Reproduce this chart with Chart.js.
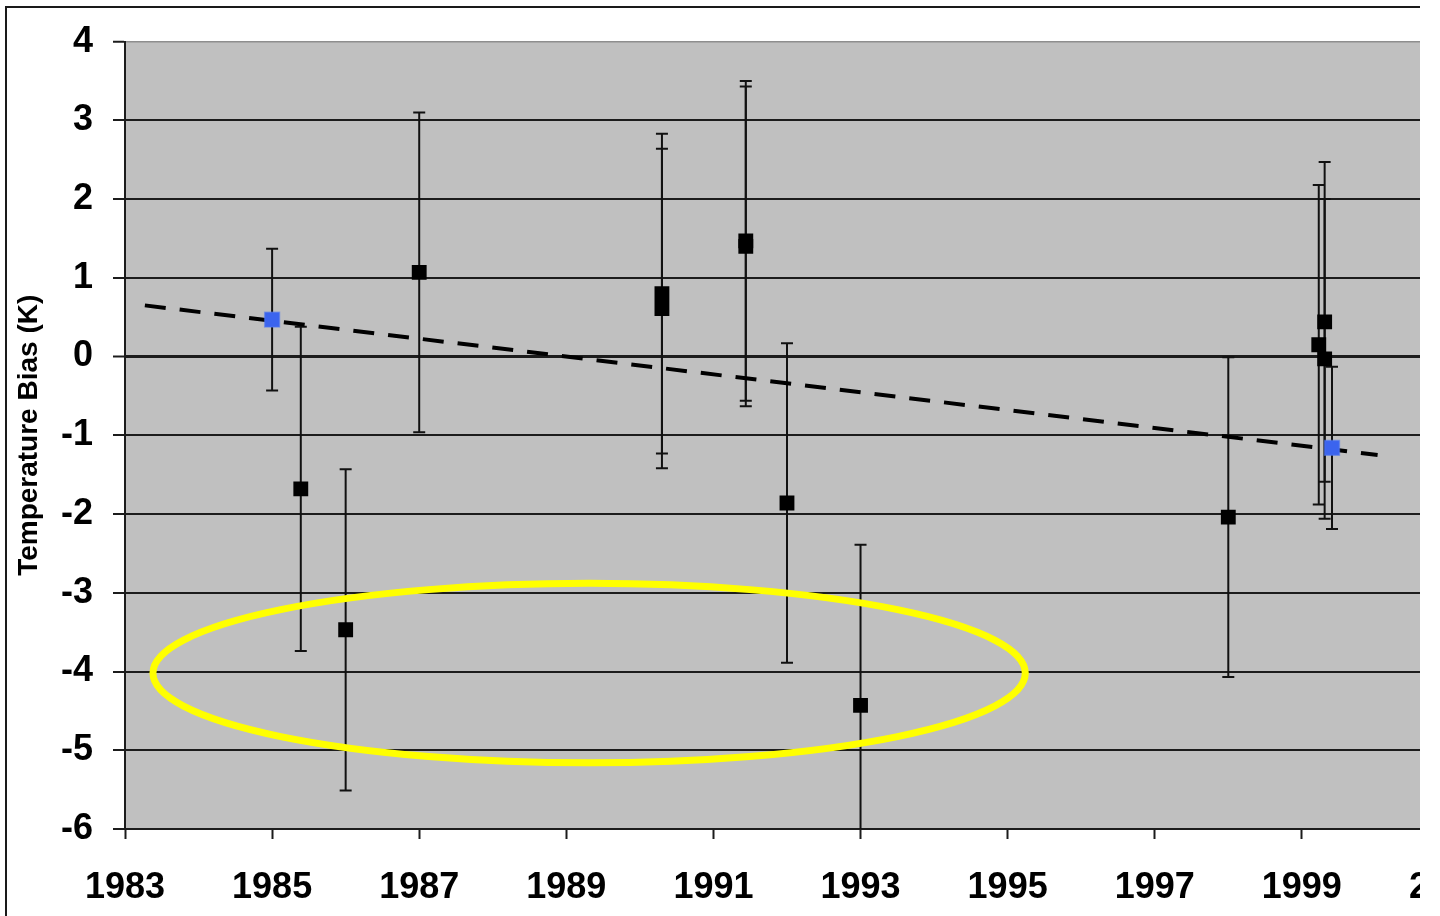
<!DOCTYPE html>
<html>
<head>
<meta charset="utf-8">
<title>Temperature Bias</title>
<script src="https://cdn.jsdelivr.net/npm/chart.js@4.4.1/dist/chart.umd.min.js"></script>
<style>
  html, body { margin: 0; padding: 0; background: #ffffff; }
  #stage { position: absolute; left: 0; top: 0; width: 1420px; height: 916px; overflow: hidden; background: #ffffff; }
  #frame { position: absolute; left: 5px; top: 6px; width: 1500px; height: 1000px;
           border-left: 2px solid #1a1a1a; border-top: 2px solid #1a1a1a; pointer-events: none; }
  #chart { position: absolute; left: 0; top: 0; }
</style>
</head>
<body>
<div id="stage">
  <canvas id="chart" width="1516" height="916"></canvas>
  <div id="frame"></div>
</div>
<script>
// Station measurements: year, bias (K) and half-width of the error bar (K)
const stationYears  = [1985.39, 1986.0, 1987.0, 1990.30, 1990.30, 1991.44, 1991.44, 1992.0, 1993.0, 1998.0, 1999.23, 1999.31, 1999.31];
const stationBias   = [-1.68,  -3.47,   1.07,   0.80,    0.61,    1.47,    1.40,   -1.86,  -4.43,  -2.04,   0.15,    0.44,   -0.03];
const stationError  = [ 2.06,   2.04,   2.03,   2.03,    2.03,    2.03,    2.03,    2.03,   2.04,   2.03,   2.03,    2.03,    2.03];

// Reference measurements (blue markers)
const referenceYears = [1985.0, 1999.41];
const referenceBias  = [0.47, -1.16];
const referenceError = [0.90, 1.03];

// Linear trend between the reference measurements
const trendYears = [1983.27, 2000.03];
const trendBias  = [0.65, -1.25];

// Axis ticks
const yearTicks = [1983, 1985, 1987, 1989, 1991, 1993, 1995, 1997, 1999, 2001];
const biasTicks = [-6, -5, -4, -3, -2, -1, 0, 1, 2, 3, 4];

// Highlighted group of low outliers (centre and radii in data units)
const highlightCenter = [1989.31, -4.02];
const highlightRadius = [5.93, 1.14];

const toPoints = (xs, ys) => xs.map((x, i) => ({ x: x, y: ys[i] }));

const plotBackground = {
  id: 'plotBackground',
  beforeDraw(chart) {
    const { ctx, chartArea: a } = chart;
    ctx.save();
    ctx.fillStyle = '#c0c0c0';
    ctx.fillRect(a.left, a.top, a.right - a.left, a.bottom - a.top);
    ctx.restore();
  }
};

function drawErrorBars(chart, xs, ys, errs) {
  const { ctx, scales } = chart;
  const cap = 6;
  xs.forEach((x, i) => {
    const px = scales.x.getPixelForValue(x);
    const top = scales.y.getPixelForValue(ys[i] + errs[i]);
    const bot = scales.y.getPixelForValue(ys[i] - errs[i]);
    ctx.beginPath();
    ctx.moveTo(px, top); ctx.lineTo(px, bot);
    ctx.moveTo(px - cap, top); ctx.lineTo(px + cap, top);
    ctx.moveTo(px - cap, bot); ctx.lineTo(px + cap, bot);
    ctx.stroke();
  });
}

const errorBars = {
  id: 'errorBars',
  beforeDatasetsDraw(chart) {
    const { ctx, chartArea: a } = chart;
    ctx.save();
    ctx.beginPath();
    ctx.rect(a.left, a.top, a.right - a.left, a.bottom - a.top);
    ctx.clip();
    ctx.strokeStyle = '#111111';
    ctx.lineWidth = 2;
    drawErrorBars(chart, stationYears, stationBias, stationError);
    drawErrorBars(chart, referenceYears, referenceBias, referenceError);
    ctx.restore();
  }
};

const highlight = {
  id: 'highlight',
  afterDatasetsDraw(chart) {
    const { ctx, scales } = chart;
    const cx = scales.x.getPixelForValue(highlightCenter[0]);
    const cy = scales.y.getPixelForValue(highlightCenter[1]);
    const rx = scales.x.getPixelForValue(highlightCenter[0] + highlightRadius[0]) - cx;
    const ry = cy - scales.y.getPixelForValue(highlightCenter[1] + highlightRadius[1]);
    ctx.save();
    ctx.strokeStyle = '#ffff00';
    ctx.lineWidth = 7;
    ctx.beginPath();
    ctx.ellipse(cx, cy, rx, ry, 0, 0, Math.PI * 2);
    ctx.stroke();
    ctx.restore();
  }
};

const tickFont = { family: '"Liberation Sans", Arial, sans-serif', size: 36, weight: 'bold' };

new Chart(document.getElementById('chart'), {
  type: 'scatter',
  data: {
    datasets: [
      {
        label: 'Trend',
        data: toPoints(trendYears, trendBias),
        showLine: true,
        borderColor: '#000000',
        borderWidth: 4,
        borderDash: [21, 14],
        pointRadius: 0,
        order: 3
      },
      {
        label: 'Stations',
        data: toPoints(stationYears, stationBias),
        pointStyle: 'rect',
        pointRadius: 10.5,
        backgroundColor: '#000000',
        borderWidth: 0,
        order: 2
      },
      {
        label: 'Reference',
        data: toPoints(referenceYears, referenceBias),
        pointStyle: 'rect',
        pointRadius: 10.5,
        backgroundColor: '#3b64ee',
        borderColor: 'rgba(80,120,240,0.55)',
        borderWidth: 1.5,
        order: 1
      }
    ]
  },
  options: {
    responsive: false,
    animation: false,
    events: [],
    layout: { padding: { left: 0, right: 51, top: 38.5, bottom: 0 } },
    plugins: { legend: { display: false }, tooltip: { enabled: false } },
    scales: {
      x: {
        type: 'linear',
        min: 1983,
        max: 2001,
        afterBuildTicks: (s) => { s.ticks = yearTicks.map(v => ({ value: v })); },
        afterFit: (s) => { s.height = 87; },
        grid: { drawOnChartArea: false, drawTicks: true, tickLength: 10, tickColor: '#1c1c1c', tickWidth: 2 },
        border: { display: true, color: '#1c1c1c', width: 2 },
        ticks: { color: '#000000', font: tickFont, padding: 27, maxRotation: 0, autoSkip: false,
                 callback: (v) => String(v) }
      },
      y: {
        type: 'linear',
        min: -6,
        max: 4,
        afterBuildTicks: (s) => { s.ticks = biasTicks.map(v => ({ value: v })); },
        afterFit: (s) => { s.width = 125; },
        grid: {
          color: (c) => (c.tick && c.tick.value === 4 ? '#8e8e8e' : '#1c1c1c'),
          lineWidth: (c) => (c.tick && c.tick.value === 0 ? 3 : (c.tick && c.tick.value === 4 ? 1.5 : 2)),
          tickColor: '#1c1c1c',
          tickLength: 12,
          tickWidth: 2
        },
        border: { display: true, color: '#1c1c1c', width: 2 },
        ticks: { color: '#000000', font: tickFont, padding: 20, autoSkip: false,
                 callback: (v) => String(v) },
        title: {
          display: true,
          text: 'Temperature Bias (K)',
          color: '#000000',
          font: { family: '"Liberation Sans", Arial, sans-serif', size: 28, weight: 'bold' },
          padding: { top: 12, bottom: 0 }
        }
      }
    }
  },
  plugins: [plotBackground, errorBars, highlight]
});
</script>
</body>
</html>
